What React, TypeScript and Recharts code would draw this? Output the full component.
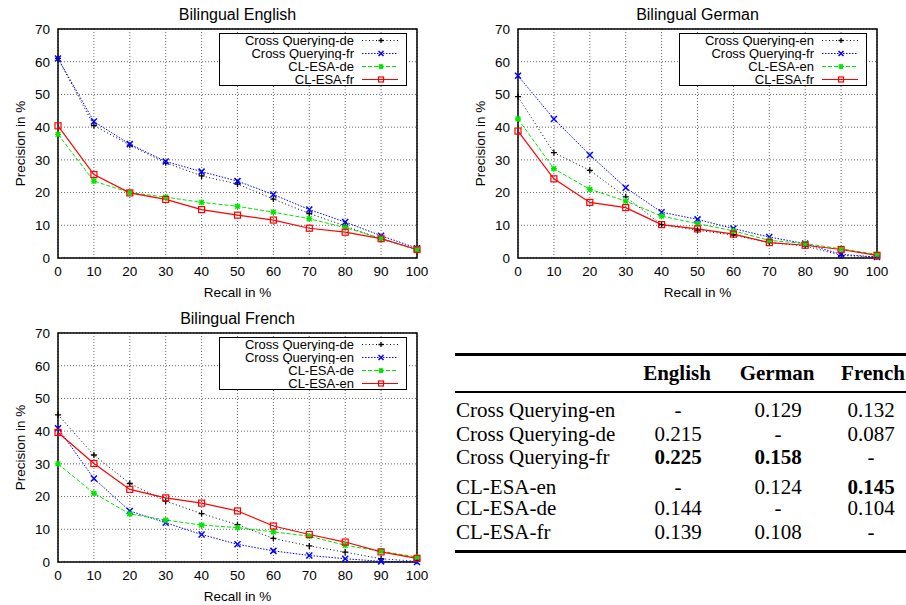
import { LineChart, Line, XAxis, YAxis, CartesianGrid, ReferenceArea, Legend } from "recharts";

const recall = [0, 10, 20, 30, 40, 50, 60, 70, 80, 90, 100];
const yTicks = [0, 10, 20, 30, 40, 50, 60, 70];

// Bilingual English
const enNames = ["Cross Querying-de", "Cross Querying-fr", "CL-ESA-de", "CL-ESA-fr"];
const enCqDe = [61, 40.5, 34.5, 29.1, 25.1, 22.6, 18, 13.6, 9.8, 5.8, 2.6];
const enCqFr = [61, 41.7, 34.8, 29.5, 26.4, 23.5, 19.4, 14.8, 11, 6.8, 3];
const enEsaDe = [37.8, 23.5, 20, 18.6, 17, 15.8, 14, 12, 9.3, 6, 2.5];
const enEsaFr = [40.4, 25.5, 19.9, 17.9, 14.8, 13.1, 11.6, 9.1, 7.9, 5.9, 2.6];

// Bilingual German
const deNames = ["Cross Querying-en", "Cross Querying-fr", "CL-ESA-en", "CL-ESA-fr"];
const deCqEn = [49.3, 32.2, 26.8, 18.7, 10.2, 8.5, 7, 4.7, 3.7, 0.8, 0.3];
const deCqFr = [55.7, 42.5, 31.5, 21.5, 14, 11.8, 9, 6.4, 4.4, 1.1, 0.3];
const deEsaEn = [42.5, 27.3, 21, 17.4, 12.8, 10.5, 8.3, 5.4, 4.4, 2.8, 1.1];
const deEsaFr = [38.8, 24.2, 17, 15.4, 10.2, 8.9, 7.3, 4.7, 3.9, 2.6, 0.8];

// Bilingual French
const frNames = ["Cross Querying-de", "Cross Querying-en", "CL-ESA-de", "CL-ESA-en"];
const frCqDe = [45, 32.7, 24, 18.6, 14.8, 11.4, 7.2, 4.9, 3, 1, 0.2];
const frCqEn = [40.9, 25.5, 15.6, 12, 8.4, 5.4, 3.4, 2, 1, 0.2, 0];
const frEsaDe = [30, 21, 14.7, 12.8, 11.3, 10.5, 9.2, 7.9, 5.1, 3.3, 1.5];
const frEsaEn = [39.6, 30.1, 22.2, 19.6, 18, 15.6, 11, 8.4, 6.1, 3.1, 1.1];

// MAP table
const tableCols = ["English", "German", "French"];
const tableRows = ["Cross Querying-en", "Cross Querying-de", "Cross Querying-fr", "CL-ESA-en", "CL-ESA-de", "CL-ESA-fr"];
const tableValues = [
  ["-", "0.129", "0.132"],
  ["0.215", "-", "0.087"],
  ["0.225", "0.158", "-"],
  ["-", "0.124", "0.145"],
  ["0.144", "-", "0.104"],
  ["0.139", "0.108", "-"],
];
const tableBold = [
  [false, false, false],
  [false, false, false],
  [true, true, false],
  [false, false, true],
  [false, false, false],
  [false, false, false],
];

const sans = '"Liberation Sans", Arial, Helvetica, sans-serif';
const serif = '"Liberation Serif", "Times New Roman", serif';

const styles = [
  { color: "#000000", dash: "1 2.5", width: 1, marker: "plus" },
  { color: "#0000ff", dash: "1.5 1.5", width: 1, marker: "cross" },
  { color: "#00e600", dash: "4 2", width: 1, marker: "star" },
  { color: "#ff0000", dash: undefined, width: 1.2, marker: "square" },
];

function Marker({ kind, cx, cy, color, s = 3 }: { kind: string; cx: number; cy: number; color: string; s?: number }) {
  if (kind === "plus")
    return <path d={`M${cx - s},${cy}H${cx + s}M${cx},${cy - s}V${cy + s}`} stroke={color} strokeWidth={1.3} fill="none" />;
  if (kind === "cross")
    return (
      <path
        d={`M${cx - s},${cy - s}L${cx + s},${cy + s}M${cx - s},${cy + s}L${cx + s},${cy - s}`}
        stroke={color}
        strokeWidth={1.5}
        fill="none"
      />
    );
  if (kind === "star") {
    const d = s * 0.8;
    return (
      <path
        d={`M${cx - s},${cy}H${cx + s}M${cx},${cy - s}V${cy + s}M${cx - d},${cy - d}L${cx + d},${cy + d}M${cx - d},${cy + d}L${cx + d},${cy - d}`}
        stroke={color}
        strokeWidth={1.4}
        fill="none"
      />
    );
  }
  return <rect x={cx - s} y={cy - s} width={2 * s} height={2 * s} stroke={color} strokeWidth={1.2} fill="none" />;
}

function legendContent(names: string[]) {
  return () => (
    <div style={{ border: "1px solid #000", background: "#fff", width: 186, height: 51, fontFamily: sans, fontSize: 13 }}>
      {names.map((n, j) => {
        const st = styles[j];
        return (
          <div key={n} style={{ display: "flex", justifyContent: "flex-end", alignItems: "center", height: 13, lineHeight: "13px", overflow: "hidden" }}>
            <span style={{ color: "#000" }}>{n}</span>
            <svg width={52} height={13} style={{ display: "block" }}>
              <line x1={8} x2={44} y1={6.5} y2={6.5} stroke={st.color} strokeWidth={st.width} strokeDasharray={st.dash} />
              <Marker kind={st.marker} cx={27} cy={6.5} color={st.color} s={2.5} />
            </svg>
          </div>
        );
      })}
    </div>
  );
}

function PrecisionChart({ title, names, series, left, top }: { title: string; names: string[]; series: number[][]; left: number; top: number }) {
  const data = recall.map((r, i) => {
    const row: Record<string, number> = { recall: r };
    series.forEach((s, j) => {
      row[`s${j}`] = s[i];
    });
    return row;
  });

  return (
    <div style={{ position: "absolute", left, top, width: 430, height: 300, fontFamily: sans }}>
      <div style={{ position: "absolute", left: 58, width: 359, top: 6, textAlign: "center", fontSize: 16, lineHeight: "18px" }}>{title}</div>
      <LineChart width={430} height={300} data={data} margin={{ top: 29, right: 13, bottom: 0, left: 0 }}>
        <CartesianGrid stroke="#666" strokeDasharray="1 2" />
        <XAxis
          dataKey="recall"
          type="number"
          domain={[0, 100]}
          ticks={recall}
          height={42}
          tickLine={false}
          axisLine={false}
          tick={{ fontSize: 13.5, fill: "#000" }}
          label={{ value: "Recall in %", position: "insideBottom", offset: 3, style: { fontSize: 13.5, fill: "#000" } }}
        />
        <YAxis
          type="number"
          domain={[0, 70]}
          ticks={yTicks}
          width={58}
          tickLine={false}
          axisLine={false}
          tick={{ fontSize: 13.5, fill: "#000" }}
          label={{
            value: "Precision in %",
            angle: -90,
            position: "insideLeft",
            offset: 20,
            style: { fontSize: 13.5, fill: "#000", textAnchor: "middle" },
          }}
        />
        <ReferenceArea x1={0} x2={100} y1={0} y2={70} fill="none" stroke="#000" strokeWidth={1.5} />
        <Legend
          layout="horizontal"
          verticalAlign="middle"
          align="center"
          content={legendContent(names)}
          wrapperStyle={{ left: 219, top: 33, width: 188, height: 53 }}
        />
        {series.map((_, j) => {
          const st = styles[j];
          return (
            <Line
              key={names[j]}
              type="linear"
              dataKey={`s${j}`}
              name={names[j]}
              stroke={st.color}
              strokeWidth={st.width}
              strokeDasharray={st.dash}
              activeDot={false}
              isAnimationActive={false}
              dot={(p: any) => <Marker key={`${names[j]}-${p.index}`} kind={st.marker} cx={p.cx} cy={p.cy} color={st.color} />}
            />
          );
        })}
      </LineChart>
    </div>
  );
}

function ResultTable() {
  const colX = [678, 778, 871];
  const headX = [677, 777, 873];
  const rowY = [410, 434, 457, 487, 508, 532];
  const cell = { position: "absolute" as const, fontFamily: serif, fontSize: 21, lineHeight: "24px", color: "#000", whiteSpace: "nowrap" as const };
  return (
    <>
      <div style={{ position: "absolute", left: 455, top: 353, width: 451, height: 3, background: "#000" }} />
      <div style={{ position: "absolute", left: 455, top: 391, width: 451, height: 2, background: "#000" }} />
      <div style={{ position: "absolute", left: 455, top: 550, width: 451, height: 3, background: "#000" }} />
      {tableCols.map((c, k) => (
        <div key={c} style={{ ...cell, left: headX[k] - 60, width: 120, textAlign: "center", top: 373 - 12, fontWeight: "bold" }}>
          {c}
        </div>
      ))}
      {tableRows.map((r, i) => (
        <div key={r}>
          <div style={{ ...cell, left: 456, top: rowY[i] - 12 }}>{r}</div>
          {tableValues[i].map((v, k) => (
            <div
              key={k}
              style={{ ...cell, left: colX[k] - 50, width: 100, textAlign: "center", top: rowY[i] - 12, fontWeight: tableBold[i][k] ? "bold" : "normal" }}
            >
              {v}
            </div>
          ))}
        </div>
      ))}
    </>
  );
}

export default function App() {
  return (
    <div style={{ position: "absolute", left: 0, top: 0, width: 906, height: 605, background: "#fff", overflow: "hidden" }}>
      <PrecisionChart title="Bilingual English" names={enNames} series={[enCqDe, enCqFr, enEsaDe, enEsaFr]} left={0} top={0} />
      <PrecisionChart title="Bilingual German" names={deNames} series={[deCqEn, deCqFr, deEsaEn, deEsaFr]} left={460} top={0} />
      <PrecisionChart title="Bilingual French" names={frNames} series={[frCqDe, frCqEn, frEsaDe, frEsaEn]} left={0} top={304} />
      <ResultTable />
    </div>
  );
}
